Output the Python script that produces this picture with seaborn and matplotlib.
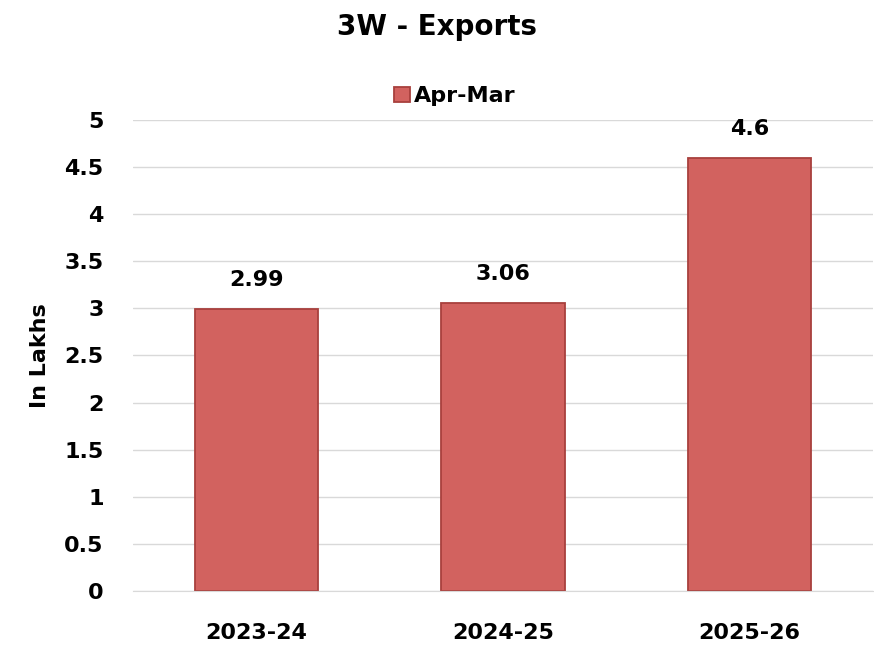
import pandas as pd
import seaborn as sns
from matplotlib import pyplot as plt

years = ['2023-24', '2024-25', '2025-26']
exports = [2.99, 3.06, 4.6]
series_name = 'Apr-Mar'
yticks = [0, 0.5, 1, 1.5, 2, 2.5, 3, 3.5, 4, 4.5, 5]

df = pd.DataFrame({'year': years, 'value': exports, 'period': series_name})

sns.set_style('white')
plt.rcParams['font.family'] = ['DejaVu Sans']
plt.rcParams['text.color'] = 'black'
plt.rcParams['axes.labelcolor'] = 'black'
plt.rcParams['xtick.color'] = 'black'
plt.rcParams['ytick.color'] = 'black'

fig = plt.figure(figsize=(8.74, 6.47), dpi=100)
ax = fig.add_axes([0.152, 0.0866, 0.847, 0.728])

sns.barplot(data=df, x='year', y='value', hue='period', palette=['#D2625F'],
            saturation=1, width=0.5, edgecolor='#A8403D', linewidth=1.3, ax=ax)

for i, v in enumerate(exports):
    ax.text(i, v + 0.2, f'{v:g}', ha='center', va='bottom', fontsize=16, fontweight='bold')

ax.set_ylim(0, 5)
ax.set_xlim(-0.5, 2.5)
ax.set_yticks(yticks)
ax.set_yticklabels([f'{t:g}' for t in yticks], fontsize=16, fontweight='bold')
ax.set_xticks(range(len(years)))
ax.set_xticklabels(years, fontsize=16, fontweight='bold')
ax.tick_params(axis='y', length=0, pad=21)
ax.tick_params(axis='x', length=0, pad=23)
ax.yaxis.grid(True, color='#D9D9D9', linewidth=1)
ax.set_axisbelow(True)
for s in ['top', 'right', 'left']:
    ax.spines[s].set_visible(False)
ax.spines['bottom'].set_color('#D9D9D9')
ax.set_xlabel('')
ax.set_ylabel('In Lakhs', fontsize=16, fontweight='bold', labelpad=10)

ax.legend(loc='lower center', bbox_to_anchor=(0.435, 1.005), frameon=False,
          prop={'size': 16, 'weight': 'bold'}, handlelength=0.7, handleheight=0.7,
          handletextpad=0.2, borderaxespad=0.1)

fig.suptitle('3W - Exports', y=0.98, fontsize=20, fontweight='bold')

fig.savefig('out.png', dpi=100)
